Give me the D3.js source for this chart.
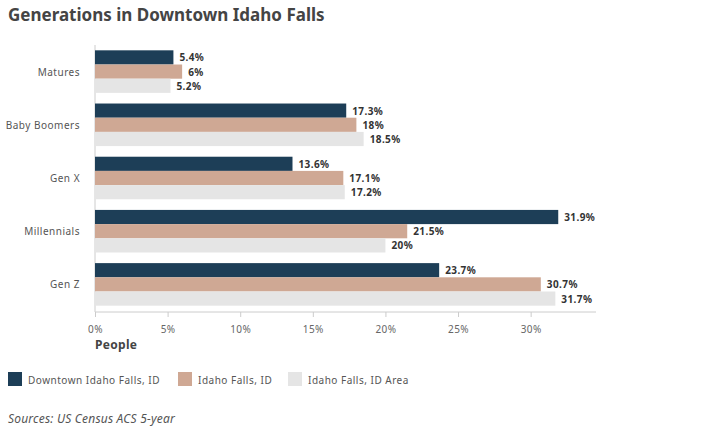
<!DOCTYPE html>
<html>
<head>
<meta charset="utf-8">
<script src="https://cdn.jsdelivr.net/npm/d3@7"></script>
<style>
  body { margin: 0; background: #fff; }
  text { font-family: "Noto Sans", "Open Sans", sans-serif; }
</style>
</head>
<body>
<div id="chart"></div>
<script>
var width = 712,
    height = 435;

var generations = ["Matures", "Baby Boomers", "Gen X", "Millennials", "Gen Z"];
var seriesNames = ["Downtown Idaho Falls, ID", "Idaho Falls, ID", "Idaho Falls, ID Area"];
var downtown = [5.4, 17.3, 13.6, 31.9, 23.7];
var idahoFalls = [6, 18, 17.1, 21.5, 30.7];
var idahoArea = [5.2, 18.5, 17.2, 20, 31.7];
var tickValues = [0, 5, 10, 15, 20, 25, 30];
var colors = ["#1d3e57", "#cfa894", "#e5e5e5"];

var series = [downtown, idahoFalls, idahoArea];

var svg = d3.select("#chart").append("svg")
    .attr("width", width)
    .attr("height", height);

svg.append("text")
    .attr("x", 8)
    .attr("y", 21)
    .style("font-size", "17px")
    .style("font-weight", "bold")
    .style("fill", "#444")
    .text("Generations in Downtown Idaho Falls");

var x = d3.scaleLinear().domain([0, 34.5]).range([95, 596]);
var y = d3.scaleBand().domain(generations).range([45, 311])
    .paddingInner(0.2).paddingOuter(0.1);
var y1 = d3.scaleBand().domain(d3.range(series.length)).range([0, y.bandwidth()]);

// axis lines
svg.append("line")
    .attr("x1", x(0)).attr("x2", x(0))
    .attr("y1", 45).attr("y2", 312)
    .style("stroke", "#ccc");

var xAxis = svg.append("g")
    .attr("transform", "translate(0,312)")
    .call(d3.axisBottom(x).tickValues(tickValues).tickSize(5).tickFormat(function(d){ return d + "%"; }));
xAxis.select(".domain").attr("d", "M" + x(0) + ",0H596").style("stroke", "#ccc");
xAxis.selectAll(".tick line").style("stroke", "#ccc");
xAxis.selectAll(".tick text")
    .attr("y", 14)
    .style("font-size", "10px")
    .style("letter-spacing", "0.4px")
    .style("fill", "#666");

var groups = svg.selectAll("g.gen")
    .data(generations)
    .enter().append("g")
    .attr("class", "gen")
    .attr("transform", function(d){ return "translate(0," + y(d) + ")"; });

groups.append("text")
    .attr("x", 80)
    .attr("y", y.bandwidth() / 2 + 4)
    .attr("text-anchor", "end")
    .style("font-size", "10px")
    .style("letter-spacing", "0.5px")
    .style("fill", "#555")
    .text(function(d){ return d; });

groups.each(function(g, gi) {
  var grp = d3.select(this);
  series.forEach(function(s, si) {
    grp.append("rect")
        .attr("x", x(0))
        .attr("y", y1(si))
        .attr("width", x(s[gi]) - x(0))
        .attr("height", y1.bandwidth())
        .style("fill", colors[si]);
    grp.append("text")
        .attr("x", x(s[gi]) + 6)
        .attr("y", y1(si) + y1.bandwidth() / 2 + 4)
        .style("font-size", "10px")
        .style("font-weight", "bold")
        .style("letter-spacing", "0.4px")
        .style("fill", "#333")
        .text(s[gi] + "%");
  });
});

svg.append("text")
    .attr("x", 95)
    .attr("y", 349)
    .style("font-size", "12px")
    .style("font-weight", "bold")
    .style("letter-spacing", "0.3px")
    .style("fill", "#444")
    .text("People");

// legend
var legendX = [8, 178, 288];
seriesNames.forEach(function(name, i) {
  svg.append("rect")
      .attr("x", legendX[i]).attr("y", 372)
      .attr("width", 14).attr("height", 14)
      .style("fill", colors[i]);
  svg.append("text")
      .attr("x", legendX[i] + 20).attr("y", 384)
      .style("font-size", "10px")
      .style("letter-spacing", "0.5px")
      .style("fill", "#555")
      .text(name);
});

svg.append("text")
    .attr("x", 8)
    .attr("y", 423)
    .style("font-size", "12px")
    .style("font-style", "italic")
    .style("letter-spacing", "0.2px")
    .style("fill", "#555")
    .text("Sources: US Census ACS 5-year");
</script>
</body>
</html>
